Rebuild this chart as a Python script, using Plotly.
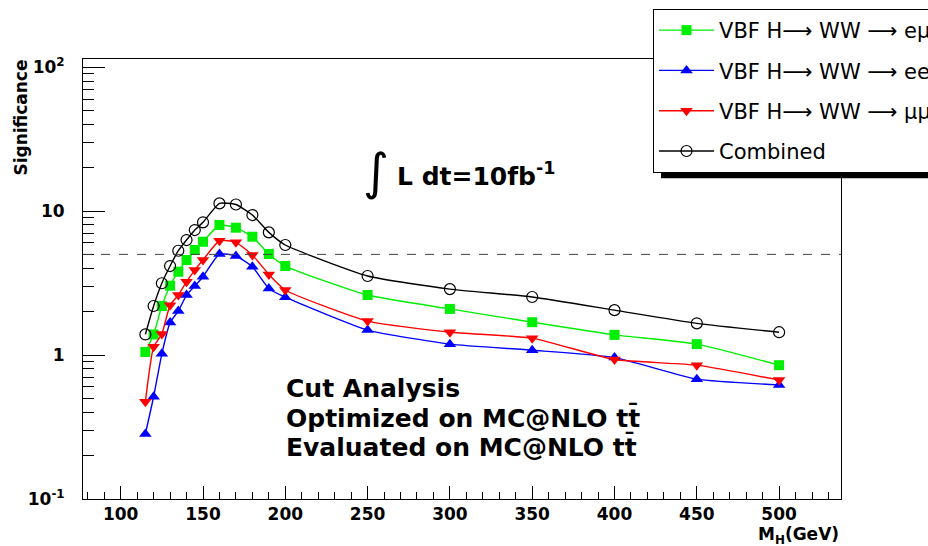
import plotly.graph_objects as go

# ---- data ----
mass = [115, 120, 125, 130, 135, 140, 145, 150, 160, 170, 180, 190, 200, 250, 300, 350, 400, 450, 500]
sig_emu = [1.05, 1.39, 2.19, 3.03, 3.79, 4.57, 5.36, 6.12, 8.0, 7.66, 6.63, 5.03, 4.15, 2.61, 2.09, 1.69, 1.38, 1.19, 0.85]
sig_ee = [0.283, 0.513, 1.02, 1.68, 2.02, 2.61, 3.01, 3.50, 5.03, 4.87, 4.10, 2.90, 2.52, 1.49, 1.19, 1.08, 0.96, 0.68, 0.62]
sig_mumu = [0.474, 1.14, 1.40, 2.22, 2.61, 3.23, 3.89, 4.57, 6.22, 6.06, 4.95, 3.63, 2.83, 1.72, 1.44, 1.31, 0.93, 0.85, 0.67]
sig_comb = [1.39, 2.19, 3.15, 4.15, 5.30, 6.29, 7.38, 8.35, 11.3, 11.1, 9.38, 7.11, 5.81, 3.54, 2.87, 2.53, 2.05, 1.66, 1.44]

names = ["VBF H\u27f6 WW \u27f6 e\u03bc", "VBF H\u27f6 WW \u27f6 ee", "VBF H\u27f6 WW \u27f6 \u03bc\u03bc", "Combined"]
x_tickvals = [100, 150, 200, 250, 300, 350, 400, 450, 500]
x_ticktext = [str(v) for v in x_tickvals]
y_tickvals = [0.1, 1, 10, 100]
y_ticktext = ["10<sup>-1</sup>", "1", "10", "10<sup>2</sup>"]
y_minor = [m * 10.0 ** e for e in (-1, 0, 1) for m in range(2, 10)]
five_sigma = 5

FONT = "DejaVu Sans"

fig = go.Figure()

styles = [
    (sig_emu, "#00ee00", dict(symbol="square", size=10, color="#00ee00")),
    (sig_ee, "#0000ff", dict(symbol="triangle-up", size=11, color="#0000ff")),
    (sig_mumu, "#ff0000", dict(symbol="triangle-down", size=11, color="#ff0000")),
    (sig_comb, "#000000", dict(symbol="circle-open", size=11, color="#000000", line=dict(width=1.2, color="#000000"))),
]
for name, (vals, col, mk) in zip(names, styles):
    fig.add_trace(go.Scatter(
        x=mass, y=vals, mode="lines+markers", name=name, legendgroup=name,
        line=dict(color=col, width=1.4, shape="spline", smoothing=0.5),
        marker=mk,
    ))

fig.update_layout(
    width=928, height=546,
    margin=dict(l=83, r=87, t=59, b=47, autoexpand=False),
    paper_bgcolor="white", plot_bgcolor="white",
    showlegend=True,
    legend=dict(
        x=0.752, xanchor="left", y=(498.5 - 9) / 439.5, yanchor="top",
        bgcolor="white", bordercolor="black", borderwidth=1,
        font=dict(family=FONT, size=21, color="black"),
        traceorder="grouped", tracegroupgap=10, itemwidth=55,
    ),
    xaxis=dict(
        range=[77.1, 537.6], showline=True, linecolor="black", linewidth=1, mirror=True,
        ticks="inside", ticklen=13, tickcolor="black", tickwidth=1,
        tickmode="array", tickvals=x_tickvals, ticktext=x_ticktext,
        tickfont=dict(family=FONT, size=17, color="black", weight="bold"),
        minor=dict(ticks="inside", ticklen=7, dtick=10, tick0=0, tickcolor="black", showgrid=False),
        showgrid=False, zeroline=False,
    ),
    yaxis=dict(
        type="log", range=[-1, 2.056], showline=True, linecolor="black", linewidth=1, mirror=True,
        ticks="inside", ticklen=22, tickcolor="black", tickwidth=1,
        tickmode="array", tickvals=y_tickvals, ticktext=y_ticktext,
        tickfont=dict(family=FONT, size=17, color="black", weight="bold"),
        ticklabelstandoff=14,
        minor=dict(ticks="inside", ticklen=11, tickvals=y_minor, tickcolor="black", showgrid=False),
        showgrid=False, zeroline=False,
    ),
)

# legend shadow
fig.add_shape(type="rect", xref="paper", yref="paper", x0=(661 - 83) / 758, x1=1.3,
              y0=(498.5 - 178) / 439.5, y1=1.05,
              fillcolor="black", line=dict(width=0), layer="above")
# 5 sigma line
fig.add_shape(type="line", xref="paper", yref="y", x0=0, x1=1, y0=five_sigma, y1=five_sigma,
              line=dict(color="#444444", width=1, dash="dash"))

bold = dict(family=FONT, color="black", weight="bold")
fig.add_annotation(text="Significance", xref="paper", yref="paper", x=-0.083, y=0.867,
                   textangle=-90, showarrow=False, xanchor="center", yanchor="middle",
                   font=dict(size=17, **bold))
fig.add_annotation(text="M<sub>H</sub>(GeV)", xref="paper", yref="paper", x=1.0, y=-0.082,
                   showarrow=False, xanchor="right", yanchor="middle", font=dict(size=17, **bold))
fig.add_annotation(text="\u222b", xref="paper", yref="paper", x=(376 - 83) / 758, y=(498.5 - 172) / 439.5,
                   showarrow=False, xanchor="center", yanchor="middle",
                   font=dict(family=FONT, size=50, color="black"))
fig.add_annotation(text="L dt=10fb<sup>-1</sup>", xref="paper", yref="paper", x=(395 - 83) / 758,
                   y=(498.5 - 174) / 439.5, showarrow=False, xanchor="left", yanchor="middle",
                   font=dict(size=25, **bold))
for i, line in enumerate(["Cut Analysis", "Optimized on MC@NLO tt\u0304", "Evaluated on MC@NLO tt\u0304"]):
    fig.add_annotation(text=line, xref="paper", yref="paper", x=(284 - 83) / 758,
                       y=(498.5 - (388 + 29 * i)) / 439.5, showarrow=False, xanchor="left",
                       yanchor="middle", font=dict(size=25, **bold))

fig.write_html("out.html")
